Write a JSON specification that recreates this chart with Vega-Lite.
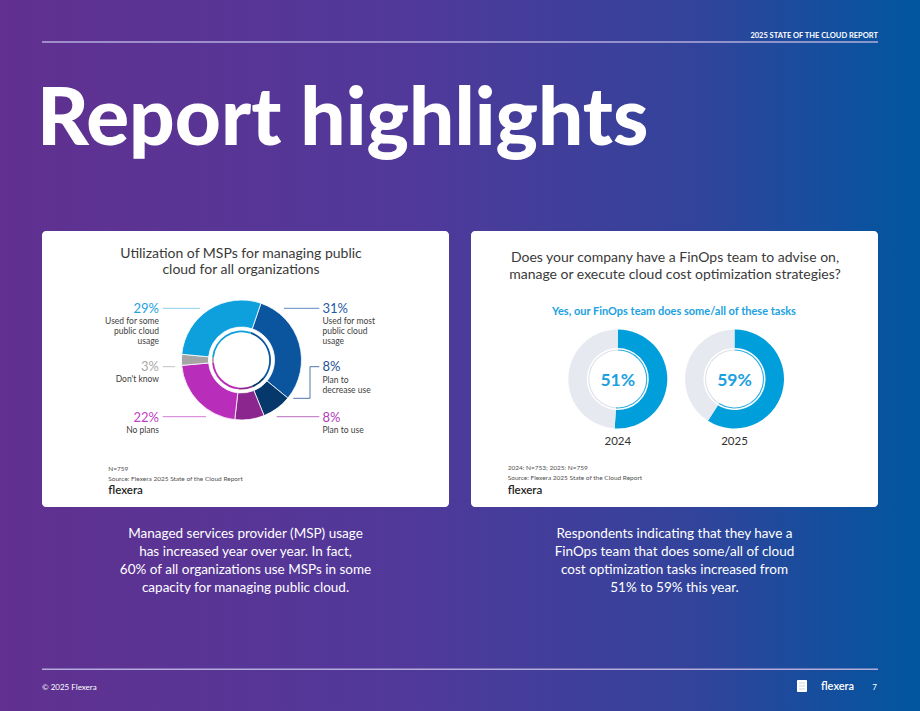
{
  "$schema": "https://vega.github.io/schema/vega-lite/v6.json",
  "width": 920,
  "height": 711,
  "autosize": {"type": "fit", "contains": "padding"},
  "padding": 0,
  "config": {
    "view": {
      "stroke": null,
      "fill": {"gradient": "linear", "x1": 0, "y1": 0, "x2": 1, "y2": 0,
        "stops": [
          {"offset": 0, "color": "#613090"},
          {"offset": 0.45, "color": "#50399a"},
          {"offset": 0.75, "color": "#33439b"},
          {"offset": 1, "color": "#00569f"}
        ]}
    }
  },
  "datasets": {
    "cards": [
      {"x": 42, "x2": 449, "y": 231, "y2": 507},
      {"x": 471, "x2": 878, "y": 231, "y2": 507}
    ],
    "icon": [{"x": 797, "x2": 807, "y": 680, "y2": 692}],
    "iconlines": [
      {"x": 799, "x2": 805, "y": 683, "y2": 683},
      {"x": 799, "x2": 805, "y": 686, "y2": 686},
      {"x": 799, "x2": 805, "y": 689, "y2": 689}
    ],
    "lines": [
      {"x": 42, "x2": 878, "y": 42, "y2": 42},
      {"x": 42, "x2": 878, "y": 669.3, "y2": 669.3}
    ],
    "leaders": [
      {"cat": "some", "x": 162.7, "x2": 200, "y": 308.3, "y2": 308.3},
      {"cat": "most", "x": 284, "x2": 319.3, "y": 308.3, "y2": 308.3},
      {"cat": "dec", "x": 310, "x2": 319.3, "y": 366.7, "y2": 366.7},
      {"cat": "dec", "x": 310, "x2": 310, "y": 366.7, "y2": 398.3},
      {"cat": "dec", "x": 293.3, "x2": 310, "y": 398.3, "y2": 398.3},
      {"cat": "plan", "x": 276.7, "x2": 319.3, "y": 416.7, "y2": 416.7},
      {"cat": "dk", "x": 162.7, "x2": 175, "y": 366.7, "y2": 366.7},
      {"cat": "noplan", "x": 162.7, "x2": 206, "y": 416.7, "y2": 416.7}
    ],
    "msp": [
      {"cat": "most", "v": 31, "o": 1},
      {"cat": "dec", "v": 8, "o": 2},
      {"cat": "plan", "v": 8, "o": 3},
      {"cat": "noplan", "v": 22, "o": 4},
      {"cat": "dk", "v": 3, "o": 5},
      {"cat": "some", "v": 29, "o": 6}
    ],
    "f24": [
      {"cat": "yes", "v": 51, "o": 1},
      {"cat": "no", "v": 49, "o": 2}
    ],
    "f25": [
      {"cat": "yes", "v": 59, "o": 1},
      {"cat": "no", "v": 41, "o": 2}
    ],
    "texts": [
      {"g": "hdr", "x": 878, "y": 37.5, "t": "2025 STATE OF THE CLOUD REPORT"},
      {"g": "big", "x": 37, "y": 145, "t": "Report highlights"},
      {"g": "foot", "x": 42, "y": 689.5, "t": "© 2025 Flexera"},
      {"g": "footlogo", "x": 821, "y": 689.5, "t": "flexera"},
      {"g": "footnum", "x": 877, "y": 689.5, "t": "7"},
      {"g": "title", "x": 241, "y": 257.5, "t": "Utilization of MSPs for managing public"},
      {"g": "title", "x": 241, "y": 273.5, "t": "cloud for all organizations"},
      {"g": "title", "x": 675, "y": 262, "t": "Does your company have a FinOps team to advise on,"},
      {"g": "title", "x": 675, "y": 279, "t": "manage or execute cloud cost optimization strategies?"},
      {"g": "pctL", "cat": "some", "x": 159, "y": 312.7, "t": "29%"},
      {"g": "pctL", "cat": "dk", "x": 159, "y": 370.7, "t": "3%"},
      {"g": "pctL", "cat": "noplan", "x": 159, "y": 421.7, "t": "22%"},
      {"g": "pctR", "cat": "most", "x": 322.5, "y": 312.7, "t": "31%"},
      {"g": "pctR", "cat": "dec", "x": 322.5, "y": 370.7, "t": "8%"},
      {"g": "pctR", "cat": "plan", "x": 322.5, "y": 421.7, "t": "8%"},
      {"g": "descL", "x": 159, "y": 324, "t": "Used for some"},
      {"g": "descL", "x": 159, "y": 334, "t": "public cloud"},
      {"g": "descL", "x": 159, "y": 344, "t": "usage"},
      {"g": "descL", "x": 159, "y": 382, "t": "Don't know"},
      {"g": "descL", "x": 159, "y": 433, "t": "No plans"},
      {"g": "descR", "x": 322.5, "y": 324, "t": "Used for most"},
      {"g": "descR", "x": 322.5, "y": 334, "t": "public cloud"},
      {"g": "descR", "x": 322.5, "y": 344, "t": "usage"},
      {"g": "descR", "x": 322.5, "y": 383, "t": "Plan to"},
      {"g": "descR", "x": 322.5, "y": 393, "t": "decrease use"},
      {"g": "descR", "x": 322.5, "y": 433, "t": "Plan to use"},
      {"g": "note", "x": 108.3, "y": 470.5, "t": "N=759"},
      {"g": "note", "x": 108.3, "y": 480.5, "t": "Source: Flexera 2025 State of the Cloud Report"},
      {"g": "note", "x": 507.7, "y": 470, "t": "2024: N=753; 2025: N=759"},
      {"g": "note", "x": 507.7, "y": 480, "t": "Source: Flexera 2025 State of the Cloud Report"},
      {"g": "logo", "x": 108.3, "y": 494, "t": "flexera"},
      {"g": "logo", "x": 507.7, "y": 493.5, "t": "flexera"},
      {"g": "sub", "x": 674, "y": 314.5, "t": "Yes, our FinOps team does some/all of these tasks"},
      {"g": "center", "x": 617.8, "y": 385.5, "t": "51%"},
      {"g": "center", "x": 734.5, "y": 385.5, "t": "59%"},
      {"g": "year", "x": 617.8, "y": 445.3, "t": "2024"},
      {"g": "year", "x": 734.5, "y": 445.3, "t": "2025"},
      {"g": "body", "x": 245.5, "y": 538, "t": "Managed services provider (MSP) usage"},
      {"g": "body", "x": 245.5, "y": 556, "t": "has increased year over year. In fact,"},
      {"g": "body", "x": 245.5, "y": 574, "t": "60% of all organizations use MSPs in some"},
      {"g": "body", "x": 245.5, "y": 592, "t": "capacity for managing public cloud."},
      {"g": "body", "x": 674.5, "y": 538, "t": "Respondents indicating that they have a"},
      {"g": "body", "x": 674.5, "y": 556, "t": "FinOps team that does some/all of cloud"},
      {"g": "body", "x": 674.5, "y": 574, "t": "cost optimization tasks increased from"},
      {"g": "body", "x": 674.5, "y": 592, "t": "51% to 59% this year."}
    ]
  },
  "resolve": {"scale": {"theta": "independent", "color": "independent"}},
  "layer": [
    {
      "data": {"name": "cards"},
      "mark": {"type": "rect", "fill": "#ffffff", "cornerRadius": 4},
      "encoding": {
        "x": {"field": "x", "type": "quantitative", "scale": {"domain": [0, 920], "nice": false, "zero": false}, "axis": null},
        "x2": {"field": "x2"},
        "y": {"field": "y", "type": "quantitative", "scale": {"domain": [0, 711], "nice": false, "zero": false, "reverse": true}, "axis": null},
        "y2": {"field": "y2"}
      }
    },
    {
      "data": {"name": "icon"},
      "mark": {"type": "rect", "fill": "#ffffff", "cornerRadius": 1},
      "encoding": {
        "x": {"field": "x", "type": "quantitative", "scale": {"domain": [0, 920], "nice": false, "zero": false}, "axis": null},
        "x2": {"field": "x2"},
        "y": {"field": "y", "type": "quantitative", "scale": {"domain": [0, 711], "nice": false, "zero": false, "reverse": true}, "axis": null},
        "y2": {"field": "y2"}
      }
    },
    {
      "data": {"name": "iconlines"},
      "mark": {"type": "rule", "stroke": "#c5cadb", "strokeWidth": 0.8},
      "encoding": {
        "x": {"field": "x", "type": "quantitative", "scale": {"domain": [0, 920], "nice": false, "zero": false}, "axis": null},
        "x2": {"field": "x2"},
        "y": {"field": "y", "type": "quantitative", "scale": {"domain": [0, 711], "nice": false, "zero": false, "reverse": true}, "axis": null},
        "y2": {"field": "y2"}
      }
    },
    {
      "data": {"name": "lines"},
      "mark": {"type": "rule", "stroke": "#b3acdc", "strokeWidth": 1.5},
      "encoding": {
        "x": {"field": "x", "type": "quantitative", "scale": {"domain": [0, 920], "nice": false, "zero": false}, "axis": null},
        "x2": {"field": "x2"},
        "y": {"field": "y", "type": "quantitative", "scale": {"domain": [0, 711], "nice": false, "zero": false, "reverse": true}, "axis": null},
        "y2": {"field": "y2"}
      }
    },
    {
      "data": {"name": "leaders"},
      "mark": {"type": "rule", "strokeWidth": 1},
      "encoding": {
        "x": {"field": "x", "type": "quantitative", "scale": {"domain": [0, 920], "nice": false, "zero": false}, "axis": null},
        "x2": {"field": "x2"},
        "y": {"field": "y", "type": "quantitative", "scale": {"domain": [0, 711], "nice": false, "zero": false, "reverse": true}, "axis": null},
        "y2": {"field": "y2"},
        "color": {"field": "cat", "type": "nominal", "legend": null,
          "scale": {"domain": ["some", "most", "dec", "plan", "dk", "noplan"],
            "range": ["#8ccfee", "#5f88c2", "#4f76aa", "#b96cc2", "#c2c2c2", "#d37ad8"]}}
      }
    },
    {
      "data": {"name": "msp"},
      "mark": {"type": "arc", "outerRadius": 60, "innerRadius": 33, "stroke": "#ffffff", "strokeWidth": 0.8},
      "encoding": {
        "x": {"datum": 241.5, "type": "quantitative", "scale": {"domain": [0, 920], "nice": false, "zero": false}, "axis": null},
        "y": {"datum": 360, "type": "quantitative", "scale": {"domain": [0, 711], "nice": false, "zero": false, "reverse": true}, "axis": null},
        "theta": {"field": "v", "type": "quantitative", "stack": true, "scale": {"range": [0.33, 6.6132]}},
        "order": {"field": "o", "type": "quantitative"},
        "color": {"field": "cat", "type": "nominal", "legend": null,
          "scale": {"domain": ["most", "dec", "plan", "noplan", "dk", "some"],
            "range": ["#0b559f", "#06386c", "#8c268f", "#b82dba", "#a5a5a5", "#0ea0dc"]}}
      }
    },
    {
      "data": {"name": "msp"},
      "mark": {"type": "arc", "outerRadius": 29.5, "innerRadius": 27.7},
      "encoding": {
        "x": {"datum": 241.5, "type": "quantitative", "scale": {"domain": [0, 920], "nice": false, "zero": false}, "axis": null},
        "y": {"datum": 360, "type": "quantitative", "scale": {"domain": [0, 711], "nice": false, "zero": false, "reverse": true}, "axis": null},
        "theta": {"field": "v", "type": "quantitative", "stack": true, "scale": {"range": [0.33, 6.6132]}},
        "order": {"field": "o", "type": "quantitative"},
        "color": {"field": "cat", "type": "nominal", "legend": null,
          "scale": {"domain": ["most", "dec", "plan", "noplan", "dk", "some"],
            "range": ["#0b559f", "#06386c", "#8c268f", "#b82dba", "#a5a5a5", "#0ea0dc"]}}
      }
    },
    {
      "data": {"name": "f24"},
      "mark": {"type": "arc", "outerRadius": 49.5, "innerRadius": 31},
      "encoding": {
        "x": {"datum": 617.8, "type": "quantitative", "scale": {"domain": [0, 920], "nice": false, "zero": false}, "axis": null},
        "y": {"datum": 379, "type": "quantitative", "scale": {"domain": [0, 711], "nice": false, "zero": false, "reverse": true}, "axis": null},
        "theta": {"field": "v", "type": "quantitative", "stack": true},
        "order": {"field": "o", "type": "quantitative"},
        "color": {"field": "cat", "type": "nominal", "legend": null,
          "scale": {"domain": ["yes", "no"], "range": ["#009fdb", "#e6e9ef"]}}
      }
    },
    {
      "data": {"name": "f24"},
      "mark": {"type": "arc", "outerRadius": 29.5, "innerRadius": 28.4},
      "encoding": {
        "x": {"datum": 617.8, "type": "quantitative", "scale": {"domain": [0, 920], "nice": false, "zero": false}, "axis": null},
        "y": {"datum": 379, "type": "quantitative", "scale": {"domain": [0, 711], "nice": false, "zero": false, "reverse": true}, "axis": null},
        "theta": {"field": "v", "type": "quantitative", "stack": true},
        "order": {"field": "o", "type": "quantitative"},
        "color": {"field": "cat", "type": "nominal", "legend": null,
          "scale": {"domain": ["yes", "no"], "range": ["#2aaee2", "#dde1e8"]}}
      }
    },
    {
      "data": {"name": "f25"},
      "mark": {"type": "arc", "outerRadius": 49.5, "innerRadius": 31},
      "encoding": {
        "x": {"datum": 734.5, "type": "quantitative", "scale": {"domain": [0, 920], "nice": false, "zero": false}, "axis": null},
        "y": {"datum": 379, "type": "quantitative", "scale": {"domain": [0, 711], "nice": false, "zero": false, "reverse": true}, "axis": null},
        "theta": {"field": "v", "type": "quantitative", "stack": true},
        "order": {"field": "o", "type": "quantitative"},
        "color": {"field": "cat", "type": "nominal", "legend": null,
          "scale": {"domain": ["yes", "no"], "range": ["#009fdb", "#e6e9ef"]}}
      }
    },
    {
      "data": {"name": "f25"},
      "mark": {"type": "arc", "outerRadius": 29.5, "innerRadius": 28.4},
      "encoding": {
        "x": {"datum": 734.5, "type": "quantitative", "scale": {"domain": [0, 920], "nice": false, "zero": false}, "axis": null},
        "y": {"datum": 379, "type": "quantitative", "scale": {"domain": [0, 711], "nice": false, "zero": false, "reverse": true}, "axis": null},
        "theta": {"field": "v", "type": "quantitative", "stack": true},
        "order": {"field": "o", "type": "quantitative"},
        "color": {"field": "cat", "type": "nominal", "legend": null,
          "scale": {"domain": ["yes", "no"], "range": ["#2aaee2", "#dde1e8"]}}
      }
    },
    {
      "data": {"name": "texts"},
      "transform": [{"filter": "datum.g === 'hdr'"}],
      "mark": {"type": "text", "align": "right", "baseline": "alphabetic", "font": "Lato", "fontSize": 7.5, "fontWeight": "bold", "fill": "#ffffff"},
      "encoding": {
        "x": {"field": "x", "type": "quantitative", "scale": {"domain": [0, 920], "nice": false, "zero": false}, "axis": null},
        "y": {"field": "y", "type": "quantitative", "scale": {"domain": [0, 711], "nice": false, "zero": false, "reverse": true}, "axis": null},
        "text": {"field": "t"}
      }
    },
    {
      "data": {"name": "texts"},
      "transform": [{"filter": "datum.g === 'big'"}],
      "mark": {"type": "text", "align": "left", "baseline": "alphabetic", "font": "Lato", "fontSize": 80, "fontWeight": 900, "fill": "#ffffff"},
      "encoding": {
        "x": {"field": "x", "type": "quantitative", "scale": {"domain": [0, 920], "nice": false, "zero": false}, "axis": null},
        "y": {"field": "y", "type": "quantitative", "scale": {"domain": [0, 711], "nice": false, "zero": false, "reverse": true}, "axis": null},
        "text": {"field": "t"}
      }
    },
    {
      "data": {"name": "texts"},
      "transform": [{"filter": "datum.g === 'foot'"}],
      "mark": {"type": "text", "align": "left", "baseline": "alphabetic", "font": "Lato", "fontSize": 8, "fill": "#ffffff"},
      "encoding": {
        "x": {"field": "x", "type": "quantitative", "scale": {"domain": [0, 920], "nice": false, "zero": false}, "axis": null},
        "y": {"field": "y", "type": "quantitative", "scale": {"domain": [0, 711], "nice": false, "zero": false, "reverse": true}, "axis": null},
        "text": {"field": "t"}
      }
    },
    {
      "data": {"name": "texts"},
      "transform": [{"filter": "datum.g === 'footnum'"}],
      "mark": {"type": "text", "align": "right", "baseline": "alphabetic", "font": "Lato", "fontSize": 8, "fill": "#ffffff"},
      "encoding": {
        "x": {"field": "x", "type": "quantitative", "scale": {"domain": [0, 920], "nice": false, "zero": false}, "axis": null},
        "y": {"field": "y", "type": "quantitative", "scale": {"domain": [0, 711], "nice": false, "zero": false, "reverse": true}, "axis": null},
        "text": {"field": "t"}
      }
    },
    {
      "data": {"name": "texts"},
      "transform": [{"filter": "datum.g === 'footlogo'"}],
      "mark": {"type": "text", "align": "left", "baseline": "alphabetic", "font": "Lato", "fontSize": 11, "fontWeight": 600, "fill": "#ffffff"},
      "encoding": {
        "x": {"field": "x", "type": "quantitative", "scale": {"domain": [0, 920], "nice": false, "zero": false}, "axis": null},
        "y": {"field": "y", "type": "quantitative", "scale": {"domain": [0, 711], "nice": false, "zero": false, "reverse": true}, "axis": null},
        "text": {"field": "t"}
      }
    },
    {
      "data": {"name": "texts"},
      "transform": [{"filter": "datum.g === 'title'"}],
      "mark": {"type": "text", "align": "center", "baseline": "alphabetic", "font": "Lato", "fontSize": 14, "fill": "#3a3a3a"},
      "encoding": {
        "x": {"field": "x", "type": "quantitative", "scale": {"domain": [0, 920], "nice": false, "zero": false}, "axis": null},
        "y": {"field": "y", "type": "quantitative", "scale": {"domain": [0, 711], "nice": false, "zero": false, "reverse": true}, "axis": null},
        "text": {"field": "t"}
      }
    },
    {
      "data": {"name": "texts"},
      "transform": [{"filter": "datum.g === 'pctL'"}],
      "mark": {"type": "text", "align": "right", "baseline": "alphabetic", "font": "Lato", "fontSize": 13},
      "encoding": {
        "x": {"field": "x", "type": "quantitative", "scale": {"domain": [0, 920], "nice": false, "zero": false}, "axis": null},
        "y": {"field": "y", "type": "quantitative", "scale": {"domain": [0, 711], "nice": false, "zero": false, "reverse": true}, "axis": null},
        "text": {"field": "t"},
        "color": {"field": "cat", "type": "nominal", "legend": null,
          "scale": {"domain": ["some", "dk", "noplan"], "range": ["#1ca3de", "#a9a9a9", "#c040c5"]}}
      }
    },
    {
      "data": {"name": "texts"},
      "transform": [{"filter": "datum.g === 'pctR'"}],
      "mark": {"type": "text", "align": "left", "baseline": "alphabetic", "font": "Lato", "fontSize": 13},
      "encoding": {
        "x": {"field": "x", "type": "quantitative", "scale": {"domain": [0, 920], "nice": false, "zero": false}, "axis": null},
        "y": {"field": "y", "type": "quantitative", "scale": {"domain": [0, 711], "nice": false, "zero": false, "reverse": true}, "axis": null},
        "text": {"field": "t"},
        "color": {"field": "cat", "type": "nominal", "legend": null,
          "scale": {"domain": ["most", "dec", "plan"], "range": ["#1d5ba6", "#1e4f8f", "#b03ab9"]}}
      }
    },
    {
      "data": {"name": "texts"},
      "transform": [{"filter": "datum.g === 'descL'"}],
      "mark": {"type": "text", "align": "right", "baseline": "alphabetic", "font": "Lato", "fontSize": 8.5, "fill": "#404040"},
      "encoding": {
        "x": {"field": "x", "type": "quantitative", "scale": {"domain": [0, 920], "nice": false, "zero": false}, "axis": null},
        "y": {"field": "y", "type": "quantitative", "scale": {"domain": [0, 711], "nice": false, "zero": false, "reverse": true}, "axis": null},
        "text": {"field": "t"}
      }
    },
    {
      "data": {"name": "texts"},
      "transform": [{"filter": "datum.g === 'descR'"}],
      "mark": {"type": "text", "align": "left", "baseline": "alphabetic", "font": "Lato", "fontSize": 8.5, "fill": "#404040"},
      "encoding": {
        "x": {"field": "x", "type": "quantitative", "scale": {"domain": [0, 920], "nice": false, "zero": false}, "axis": null},
        "y": {"field": "y", "type": "quantitative", "scale": {"domain": [0, 711], "nice": false, "zero": false, "reverse": true}, "axis": null},
        "text": {"field": "t"}
      }
    },
    {
      "data": {"name": "texts"},
      "transform": [{"filter": "datum.g === 'note'"}],
      "mark": {"type": "text", "align": "left", "baseline": "alphabetic", "font": "Lato", "fontSize": 6.5, "fill": "#505050"},
      "encoding": {
        "x": {"field": "x", "type": "quantitative", "scale": {"domain": [0, 920], "nice": false, "zero": false}, "axis": null},
        "y": {"field": "y", "type": "quantitative", "scale": {"domain": [0, 711], "nice": false, "zero": false, "reverse": true}, "axis": null},
        "text": {"field": "t"}
      }
    },
    {
      "data": {"name": "texts"},
      "transform": [{"filter": "datum.g === 'logo'"}],
      "mark": {"type": "text", "align": "left", "baseline": "alphabetic", "font": "Lato", "fontSize": 11.5, "fontWeight": 600, "fill": "#1e1e1e"},
      "encoding": {
        "x": {"field": "x", "type": "quantitative", "scale": {"domain": [0, 920], "nice": false, "zero": false}, "axis": null},
        "y": {"field": "y", "type": "quantitative", "scale": {"domain": [0, 711], "nice": false, "zero": false, "reverse": true}, "axis": null},
        "text": {"field": "t"}
      }
    },
    {
      "data": {"name": "texts"},
      "transform": [{"filter": "datum.g === 'sub'"}],
      "mark": {"type": "text", "align": "center", "baseline": "alphabetic", "font": "Lato", "fontSize": 11, "fontWeight": "bold", "fill": "#1ba1df"},
      "encoding": {
        "x": {"field": "x", "type": "quantitative", "scale": {"domain": [0, 920], "nice": false, "zero": false}, "axis": null},
        "y": {"field": "y", "type": "quantitative", "scale": {"domain": [0, 711], "nice": false, "zero": false, "reverse": true}, "axis": null},
        "text": {"field": "t"}
      }
    },
    {
      "data": {"name": "texts"},
      "transform": [{"filter": "datum.g === 'center'"}],
      "mark": {"type": "text", "align": "center", "baseline": "alphabetic", "font": "Lato", "fontSize": 17.5, "fontWeight": "bold", "fill": "#1ba1df"},
      "encoding": {
        "x": {"field": "x", "type": "quantitative", "scale": {"domain": [0, 920], "nice": false, "zero": false}, "axis": null},
        "y": {"field": "y", "type": "quantitative", "scale": {"domain": [0, 711], "nice": false, "zero": false, "reverse": true}, "axis": null},
        "text": {"field": "t"}
      }
    },
    {
      "data": {"name": "texts"},
      "transform": [{"filter": "datum.g === 'year'"}],
      "mark": {"type": "text", "align": "center", "baseline": "alphabetic", "font": "Lato", "fontSize": 11.5, "fill": "#333333"},
      "encoding": {
        "x": {"field": "x", "type": "quantitative", "scale": {"domain": [0, 920], "nice": false, "zero": false}, "axis": null},
        "y": {"field": "y", "type": "quantitative", "scale": {"domain": [0, 711], "nice": false, "zero": false, "reverse": true}, "axis": null},
        "text": {"field": "t"}
      }
    },
    {
      "data": {"name": "texts"},
      "transform": [{"filter": "datum.g === 'body'"}],
      "mark": {"type": "text", "align": "center", "baseline": "alphabetic", "font": "Lato", "fontSize": 13.5, "fill": "#ffffff"},
      "encoding": {
        "x": {"field": "x", "type": "quantitative", "scale": {"domain": [0, 920], "nice": false, "zero": false}, "axis": null},
        "y": {"field": "y", "type": "quantitative", "scale": {"domain": [0, 711], "nice": false, "zero": false, "reverse": true}, "axis": null},
        "text": {"field": "t"}
      }
    }
  ]
}
